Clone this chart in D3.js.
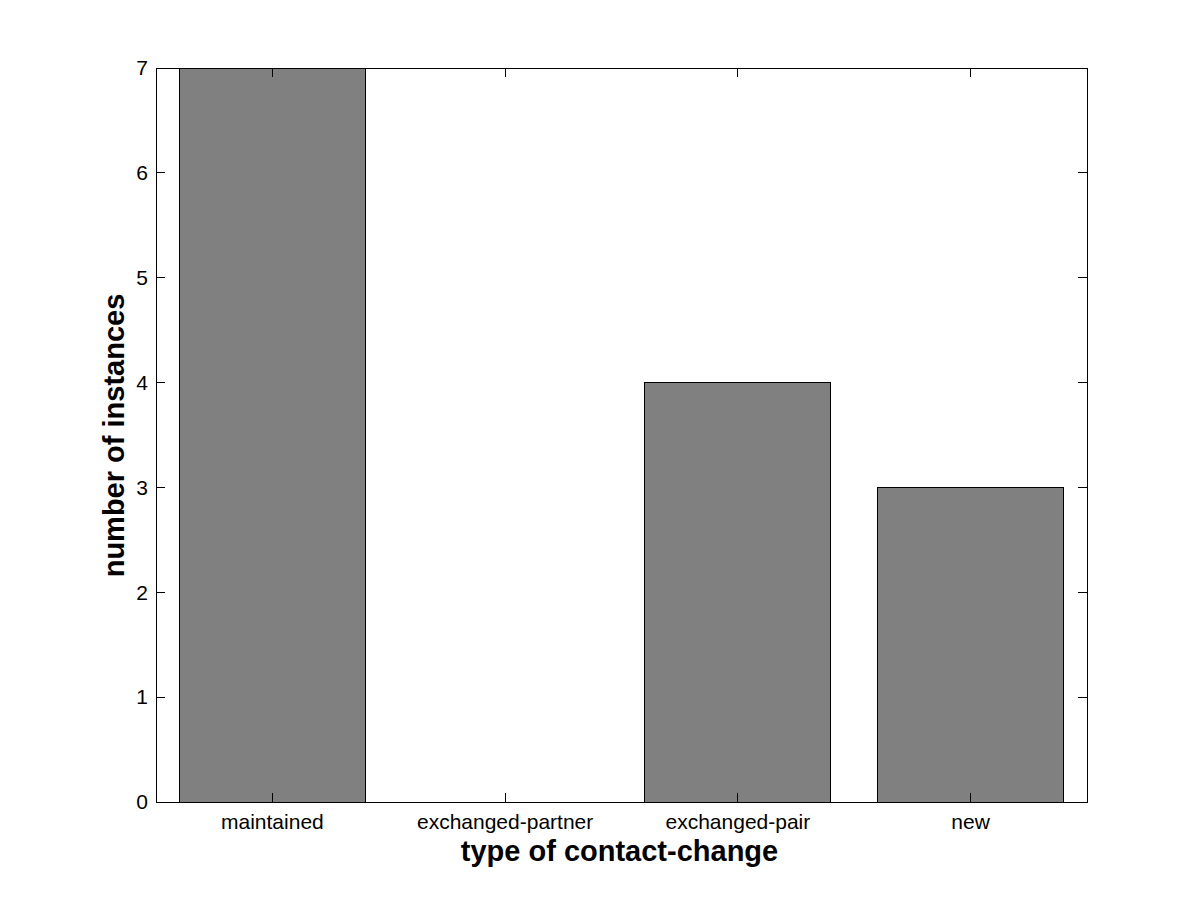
<!DOCTYPE html>
<html><head><meta charset="utf-8">
<script src="https://cdn.jsdelivr.net/npm/d3@7"></script>
<style>body{margin:0;background:#fff}svg{display:block}text{font-family:"Liberation Sans",Arial,sans-serif}</style>
</head><body>
<script>
const categories = ["maintained","exchanged-partner","exchanged-pair","new"];
const values = [7,0,4,3];
const yTicks = [0,1,2,3,4,5,6,7];

const W=1201,H=901, L=156,R=1087,T=68,B=802;
const svg=d3.select("body").append("svg").attr("width",W).attr("height",H);
svg.append("rect").attr("width",W).attr("height",H).attr("fill","#fff");
const x=d3.scaleLinear().domain([0.5,4.5]).range([L,R]);
const y=d3.scaleLinear().domain([0,7]).range([B,T]);

svg.selectAll("rect.bar").data(values).join("rect").attr("class","bar")
 .attr("x",(d,i)=>x(i+1-0.4)).attr("width",(d,i)=>x(i+1+0.4)-x(i+1-0.4))
 .attr("y",d=>y(d)).attr("height",d=>y(0)-y(d))
 .attr("fill",d=>d>0?"#808080":"none").attr("stroke",d=>d>0?"#000":"none").attr("stroke-width",1)
 .attr("shape-rendering","crispEdges");

const tl=9;
const g=svg.append("g").attr("stroke","#000").attr("stroke-width",1).attr("shape-rendering","crispEdges");
yTicks.forEach(t=>{
  g.append("line").attr("x1",L).attr("x2",L+tl).attr("y1",y(t)).attr("y2",y(t));
  g.append("line").attr("x1",R).attr("x2",R-tl).attr("y1",y(t)).attr("y2",y(t));
});
categories.forEach((c,i)=>{
  g.append("line").attr("x1",x(i+1)).attr("x2",x(i+1)).attr("y1",B).attr("y2",B-tl);
  g.append("line").attr("x1",x(i+1)).attr("x2",x(i+1)).attr("y1",T).attr("y2",T+tl);
});
g.append("rect").attr("x",L).attr("y",T).attr("width",R-L).attr("height",B-T).attr("fill","none");

svg.selectAll("text.yt").data(yTicks).join("text").attr("class","yt")
 .attr("x",L-8).attr("y",d=>y(d)).attr("dy","0.35em").attr("text-anchor","end")
 .attr("font-size",21).text(d=>d);
svg.selectAll("text.xt").data(categories).join("text").attr("class","xt")
 .attr("x",(d,i)=>x(i+1)).attr("y",B+27).attr("text-anchor","middle")
 .attr("font-size",21).text(d=>d);
svg.append("text").attr("x",619.5).attr("y",861).attr("text-anchor","middle")
 .attr("font-size",29).attr("font-weight","bold").text("type of contact-change");
svg.append("text").attr("transform",`translate(124,435.5) rotate(-90)`).attr("text-anchor","middle")
 .attr("font-size",29).attr("font-weight","bold").text("number of instances");
</script>
</body></html>
